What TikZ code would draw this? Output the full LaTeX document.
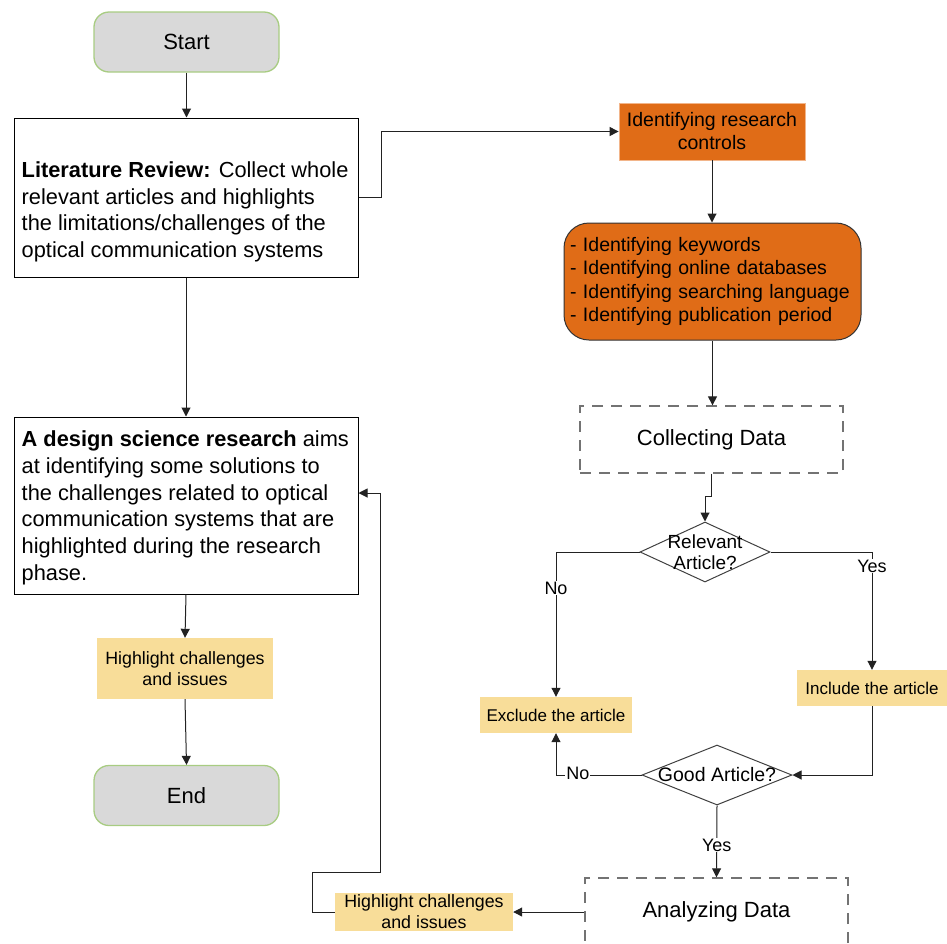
\documentclass[tikz,border=0pt]{standalone}
\usepackage{fontspec}
\setmainfont{Liberation Sans}
\usetikzlibrary{shapes.geometric,arrows.meta,calc}
\definecolor{orangeF}{HTML}{E06C17}
\definecolor{orangeB}{HTML}{F2B58A}
\definecolor{yellowF}{HTML}{F8DD99}
\definecolor{grayF}{HTML}{D9D9D9}
\definecolor{greenB}{HTML}{A8CC82}
\definecolor{lineC}{HTML}{222222}
\begin{document}
\begin{tikzpicture}[x=1pt,y=-1pt,
  arr/.style={-{Triangle[length=9pt,width=9pt]}, draw=lineC, line width=1pt},
  terminal/.style={draw=greenB, fill=grayF, rounded corners=15pt, line width=1.3pt,
    minimum width=185pt, minimum height=60pt, font=\fontsize{22}{26}\selectfont},
  bigbox/.style={draw=black, line width=1pt, fill=white, minimum width=344pt},
  bigtext/.style={align=left, inner sep=0pt, font=\fontsize{21.8}{26.7}\selectfont},
  note/.style={fill=yellowF, align=center, inner sep=0pt, font=\fontsize{17.8}{21}\selectfont},
  smallnote/.style={fill=yellowF, inner sep=0pt, font=\fontsize{17}{20}\selectfont},
  dashbox/.style={draw=black!55, line width=1.3pt, dash pattern=on 11pt off 8pt,
    font=\fontsize{22}{26}\selectfont},
  dec/.style={diamond, draw=black!75, line width=1pt, inner sep=0pt},
  lbl/.style={fill=white, inner sep=1pt, font=\fontsize{18}{21}\selectfont}
]
\useasboundingbox (0,0) rectangle (947,943);

% left column
\node[terminal] (start) at (186.5,42) {Start};
\node[bigbox, minimum height=159pt] (lit) at (186,197.5) {};
\node[bigtext, anchor=north west] (littext) at ($(lit.north west)+(8,44)$)
  {\textbf{Literature Review:} Collect whole\\relevant articles and highlights\\the limitations/challenges of the\\optical communication systems};
\node[bigbox, minimum height=177pt] (design) at (186,505.5) {};
\node[bigtext, anchor=west] (designtext) at ($(design.west)+(8,2.5)$)
  {\textbf{A design science research} aims\\at identifying some solutions to\\the challenges related to optical\\communication systems that are\\highlighted during the research\\phase.};
\node[note, minimum width=176pt, minimum height=61pt] (hl1) at (185,668.5) {Highlight challenges\\and issues};
\node[terminal] (end) at (186.5,795.5) {End};

% right column
\node[fill=orangeF, draw=orangeB, line width=0.8pt, minimum width=186pt, minimum height=57pt,
  align=center, font=\fontsize{19.5}{23}\selectfont] (rc) at (712,131.5) {Identifying research\\controls};
\node[fill=orangeF, draw=black!80, line width=1pt, rounded corners=25pt, minimum width=297pt,
  minimum height=117pt, text width=285pt, align=left, font=\fontsize{19.5}{23.3}\selectfont] (ob) at (712.5,281.5)
  {- Identifying keywords\\- Identifying online databases\\- Identifying searching language\\- Identifying publication period};
\node[dashbox, minimum width=263pt, minimum height=67pt] (cd) at (711.5,439.5) {Collecting Data};
\node[dec, minimum width=130pt, minimum height=60pt,
  label={[align=center, font=\fontsize{19}{21.5}\selectfont]center:Relevant\\Article?}] (rel) at (705,552) {};
\node[smallnote, minimum width=150pt, minimum height=36pt] (inc) at (872,688) {Include the article};
\node[smallnote, minimum width=152pt, minimum height=36pt] (exc) at (556,715) {Exclude the article};
\node[dec, minimum width=150pt, minimum height=60pt,
  label={[font=\fontsize{19.5}{22}\selectfont]center:Good Article?}] (good) at (717,775) {};
\node[dashbox, minimum width=263pt, minimum height=68pt] (ana) at (716.5,912) {Analyzing Data};
\node[note, minimum width=178pt, minimum height=38pt] (hl2) at (424,912) {Highlight challenges\\and issues};

% connectors
\draw[arr] (start.south) -- (start.south |- lit.north);
\draw[arr] (lit.east) -- ++(23,0) |- (rc.west);
\draw[arr] (rc.south) -- (rc.south |- ob.north);
\draw[arr] (ob.south) -- (ob.south |- cd.north);
\draw[arr] (cd.south) -- ++(0,23) -| (rel.north);
\draw[arr] (rel.west) -| node[lbl, pos=0.625] {No} (exc.north);
\draw[arr] (rel.east) -| node[lbl, pos=0.56] {Yes} (inc.north);
\draw[arr] (inc.south) |- (good.east);
\draw[arr] (good.west) -| node[lbl, pos=0.372, yshift=2pt] {No} (exc.south);
\draw[arr] (good.south) -- node[lbl, pos=0.55] {Yes} (ana.north);
\draw[arr] (ana.west) -- (hl2.east);
\draw[arr] (hl2.west) -- ++(-22,0) |- ++(68,-40) |- ($(design.east)+(0,-12.5)$);
\draw[arr] (lit.south) -- (design.north);
\draw[arr] (design.south) -- (hl1.north);
\draw[arr] (hl1.south) -- (end.north);
\end{tikzpicture}
\end{document}
